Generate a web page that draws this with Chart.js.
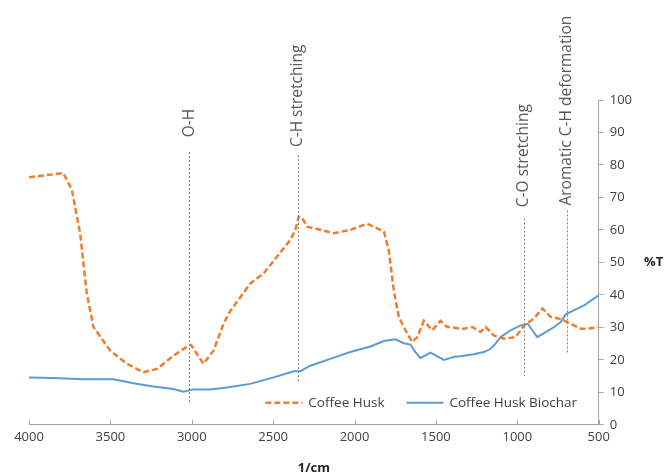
<!DOCTYPE html>
<html>
<head>
<meta charset="utf-8">
<script src="https://cdn.jsdelivr.net/npm/chart.js@4.4.1/dist/chart.umd.min.js"></script>
<style>
  html, body { margin: 0; padding: 0; background: #fff; }
  #ftirChart { display: block; }
</style>
</head>
<body>
<canvas id="ftirChart" width="665" height="474"></canvas>
<script>
// Coffee husk (raw) spectrum
const huskWavenumbers = [4000, 3789, 3737, 3686, 3645, 3604, 3502, 3399, 3297, 3214, 3112, 3020, 3005, 2928, 2866, 2805, 2764, 2641, 2559, 2395, 2364, 2343, 2323, 2292, 2230, 2128, 2026, 1923, 1820, 1790, 1759, 1728, 1687, 1646, 1615, 1574, 1523, 1472, 1431, 1410, 1349, 1328, 1277, 1226, 1195, 1144, 1082, 1010, 959, 898, 846, 795, 744, 692, 610, 569, 500];
const huskValues = [76.2, 77.5, 72.4, 59, 40.4, 30.1, 22.9, 18.8, 16.2, 17.2, 21.3, 24.4, 24.6, 18.8, 22.9, 31.1, 35, 43.5, 46.6, 56.9, 60, 64.1, 63.8, 61, 60.3, 59, 60, 61.9, 59.5, 53.8, 41.4, 33.2, 29.1, 25.5, 27, 32, 29.1, 32, 30.1, 30.1, 29.6, 29.6, 30.1, 28.6, 30.1, 27.5, 26.5, 27, 30.6, 32.7, 35.8, 33.2, 32.7, 31.6, 29.6, 29.6, 30.1];

// Coffee husk biochar spectrum
const biocharWavenumbers = [4000, 3850, 3666, 3481, 3358, 3235, 3112, 3051, 2989, 2887, 2784, 2641, 2497, 2374, 2333, 2272, 2149, 2026, 1902, 1820, 1749, 1698, 1656, 1626, 1595, 1533, 1451, 1410, 1380, 1349, 1267, 1205, 1164, 1134, 1103, 1041, 980, 935, 908, 877, 836, 774, 733, 703, 651, 590, 500];
const biocharValues = [14.6, 14.4, 14.0, 14.0, 12.8, 11.8, 11.0, 10.2, 10.9, 10.9, 11.5, 12.6, 14.6, 16.5, 16.5, 18.2, 20.3, 22.4, 24.1, 25.8, 26.3, 25.1, 24.7, 22.4, 20.6, 22.2, 20.0, 20.6, 21.0, 21.1, 21.7, 22.4, 23.4, 25, 27, 29.1, 30.6, 31.1, 29.1, 27, 28.2, 30.1, 31.6, 34, 35.3, 36.8, 39.9];

// Band assignments (dotted marker lines)
const annotationLabels = ["O-H", "C-H stretching", "C-O stretching", "Aromatic C-H deformation"];
const annotationWavenumbers = [3015, 2350, 960, 697];
const annotationTop = [84, 83, 63.5, 66];
const annotationBottom = [7, 13, 15, 22];
const annotationTextBase = [88.5, 85.5, 67, 67.5];

const xTicksMin = 500;
const xTicksMax = 4000;
const yTicksMin = 0;
const yTicksMax = 100;

const textFont = "'Open Sans', sans-serif";
const axisColor = "#a6a6a6";
const labelColor = "#404040";

function toPoints(xs, ys) {
  return xs.map((x, i) => ({ x: x, y: ys[i] }));
}

// Draws band markers, inner x ticks, %T label and the legend
const ftirExtras = {
  id: "ftirExtras",
  afterDatasetsDraw(chart) {
    const ctx = chart.ctx;
    const xs = chart.scales.x;
    const ys = chart.scales.y;
    const area = chart.chartArea;

    // dotted band lines + rotated labels
    ctx.save();
    ctx.strokeStyle = "#7f7f7f";
    ctx.lineWidth = 1;
    ctx.setLineDash([2, 2]);
    annotationWavenumbers.forEach((wn, i) => {
      const px = Math.round(xs.getPixelForValue(wn)) + 0.5;
      ctx.beginPath();
      ctx.moveTo(px, ys.getPixelForValue(annotationTop[i]));
      ctx.lineTo(px, ys.getPixelForValue(annotationBottom[i]));
      ctx.stroke();
    });
    ctx.setLineDash([]);
    ctx.fillStyle = "#595959";
    ctx.font = "15.5px " + textFont;
    ctx.textAlign = "left";
    ctx.textBaseline = "middle";
    annotationLabels.forEach((label, i) => {
      ctx.save();
      ctx.translate(xs.getPixelForValue(annotationWavenumbers[i]), ys.getPixelForValue(annotationTextBase[i]));
      ctx.rotate(-Math.PI / 2);
      ctx.fillText(label, 0, 0);
      ctx.restore();
    });
    ctx.restore();

    // x ticks pointing up into the plot
    ctx.save();
    ctx.strokeStyle = axisColor;
    ctx.lineWidth = 1;
    xs.ticks.forEach((t, i) => {
      const px = Math.round(xs.getPixelForTick(i)) + 0.5;
      ctx.beginPath();
      ctx.moveTo(px, area.bottom);
      ctx.lineTo(px, area.bottom - 5);
      ctx.stroke();
    });
    ctx.restore();

    // %T label beside right axis
    ctx.save();
    ctx.fillStyle = "#262626";
    ctx.font = "bold 13px " + textFont;
    ctx.textAlign = "center";
    ctx.textBaseline = "middle";
    ctx.fillText("%T", area.right + 55, ys.getPixelForValue(50));
    ctx.restore();

    // legend inside plot area
    ctx.save();
    const ly = ys.getPixelForValue(6.8);
    let lx = xs.getPixelForValue(2548);
    ctx.font = "13.5px " + textFont;
    ctx.textBaseline = "middle";
    ctx.textAlign = "left";
    chart.data.datasets.forEach((ds) => {
      ctx.strokeStyle = ds.borderColor;
      ctx.lineWidth = ds.borderWidth;
      ctx.setLineDash(ds.borderDash || []);
      ctx.beginPath();
      ctx.moveTo(lx, ly);
      ctx.lineTo(lx + 37, ly);
      ctx.stroke();
      ctx.setLineDash([]);
      ctx.fillStyle = labelColor;
      ctx.fillText(ds.label, lx + 43, ly);
      lx += 43 + ctx.measureText(ds.label).width + 22;
    });
    ctx.restore();
  },
};

const ctx = document.getElementById("ftirChart").getContext("2d");

const chart = new Chart(ctx, {
  type: "line",
  data: {
    datasets: [
      {
        label: "Coffee Husk",
        data: toPoints(huskWavenumbers, huskValues),
        borderColor: "#ED7D31",
        borderWidth: 2.5,
        borderDash: [6, 3],
        pointRadius: 0,
        fill: false,
        tension: 0,
      },
      {
        label: "Coffee Husk Biochar",
        data: toPoints(biocharWavenumbers, biocharValues),
        borderColor: "#5B9BD5",
        borderWidth: 2,
        pointRadius: 0,
        fill: false,
        tension: 0,
      },
    ],
  },
  options: {
    responsive: false,
    animation: false,
    layout: { padding: { left: 29, right: 27, top: 100, bottom: 0 } },
    scales: {
      x: {
        type: "linear",
        reverse: true,
        min: xTicksMin,
        max: xTicksMax,
        grid: { display: false, drawTicks: false },
        border: { display: true, color: axisColor, width: 1 },
        ticks: {
          stepSize: 500,
          color: labelColor,
          padding: 5,
          font: { family: textFont, size: 13 },
          callback: (value) => `${value}`,
        },
        title: {
          display: true,
          text: "1/cm",
          color: "#262626",
          padding: { top: 10, bottom: -2 },
          font: { family: textFont, size: 13, weight: "bold" },
        },
      },
      y: {
        position: "right",
        min: yTicksMin,
        max: yTicksMax,
        grid: { drawOnChartArea: false, drawTicks: true, tickLength: 5, color: axisColor },
        border: { display: true, color: axisColor, width: 1 },
        ticks: {
          stepSize: 10,
          color: labelColor,
          padding: 6,
          font: { family: textFont, size: 13 },
        },
      },
    },
    plugins: {
      legend: { display: false },
      tooltip: { enabled: false },
    },
  },
  plugins: [ftirExtras],
});
</script>
</body>
</html>
